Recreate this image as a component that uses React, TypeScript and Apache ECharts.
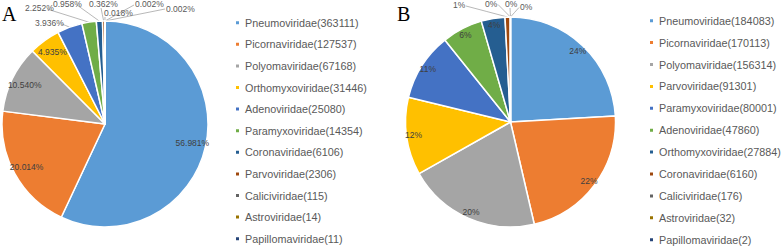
import React, { useEffect, useRef } from 'react';
import * as echarts from 'echarts';

const namesA = ['Pneumoviridae', 'Picornaviridae', 'Polyomaviridae', 'Orthomyxoviridae', 'Adenoviridae', 'Paramyxoviridae', 'Coronaviridae', 'Parvoviridae', 'Caliciviridae', 'Astroviridae', 'Papillomaviridae'];
const valuesA = [363111, 127537, 67168, 31446, 25080, 14354, 6106, 2306, 115, 14, 11];
const namesB = ['Pneumoviridae', 'Picornaviridae', 'Polyomaviridae', 'Parvoviridae', 'Paramyxoviridae', 'Adenoviridae', 'Orthomyxoviridae', 'Coronaviridae', 'Caliciviridae', 'Astroviridae', 'Papillomaviridae'];
const valuesB = [184083, 170113, 156314, 91301, 80001, 47860, 27884, 6160, 176, 32, 2];
const palette = ['#5B9BD5', '#ED7D31', '#A5A5A5', '#FFC000', '#4472C4', '#70AD47', '#255E91', '#9E480E', '#636363', '#997300', '#264478'];

// label placement (layout only): [left x, middle y, line end x, line end y]
const outsideA: Record<number, number[]> = {
  4: [35, 23, 62, 24],
  5: [25, 8, 47, 9],
  6: [53, 4, 77, 5],
  7: [89, 4, 101, 8],
  8: [104, 13, 105, 17],
  9: [135, 4, 134, 5],
  10: [166, 8.5, 165, 9],
};
const outsideB: Record<number, number[]> = {
  7: [453, 4.5, 466, 6],
  8: [485, 3.5, 498, 4.5],
  9: [505, 3.5, 510, 8],
  10: [520, 6.5, 519, 7.5],
};

const FONT = 'Liberation Sans';

function buildMain(names: string[], values: number[], insideCount: number) {
  return names.map((n, i) => ({
    name: n,
    value: values[i],
    itemStyle: { color: palette[i] },
    label: { show: i >= insideCount },
    labelLine: { show: i >= insideCount },
  }));
}
function buildOverlay(names: string[], values: number[], insideCount: number) {
  return names.map((n, i) => ({
    name: n,
    value: values[i],
    itemStyle: { color: 'rgba(0,0,0,0)' },
    label: { show: i < insideCount },
  }));
}

function layoutFn(spec: Record<number, number[]>) {
  return (p: any) => {
    const s = spec[p.dataIndex];
    if (!s) return {};
    const pts = p.labelLinePoints;
    const res: any = { x: s[0], y: s[1], align: 'left', verticalAlign: 'middle' };
    if (pts && pts[0]) {
      const a = pts[0];
      res.labelLinePoints = [a, [(a[0] + s[2]) / 2, (a[1] + s[3]) / 2], [s[2], s[3]]];
    }
    return res;
  };
}

export default function App() {
  const ref = useRef<HTMLDivElement>(null);
  useEffect(() => {
    if (!ref.current) return;
    const chart = echarts.init(ref.current, undefined, { renderer: 'svg' });
    const fmtA = (p: any) => `${Number(p.percent).toFixed(3)}%`;
    const fmtB = (p: any) => `${p.percent}%`;
    const commonMain = {
      type: 'pie',
      startAngle: 90,
      clockwise: true,
      avoidLabelOverlap: false,
      silent: true,
      itemStyle: { borderColor: '#ffffff', borderWidth: 1.5 },
      label: { position: 'outside', color: '#595959', fontSize: 8.5, fontFamily: FONT },
      labelLine: { lineStyle: { color: '#A6A6A6', width: 0.8 }, length: 5, length2: 5 },
    };
    const commonOverlay = {
      type: 'pie',
      startAngle: 90,
      clockwise: true,
      silent: true,
      avoidLabelOverlap: false,
      z: 5,
      itemStyle: { borderWidth: 0 },
      label: { position: 'inside', color: '#404040', fontSize: 8.5, fontFamily: FONT },
      labelLine: { show: false },
    };
    const legendCommon = {
      orient: 'vertical',
      icon: 'rect',
      itemWidth: 5,
      itemHeight: 5,
      padding: 0,
      selectedMode: false,
      textStyle: { color: '#595959', fontSize: 10.8, fontFamily: FONT, lineHeight: 12 },
    };
    chart.setOption({
      animation: false,
      legend: [
        {
          ...legendCommon,
          left: 234,
          top: 16.7,
          itemGap: 9.6,
          data: namesA.map((n, i) => ({ name: n, itemStyle: { color: palette[i] } })),
          formatter: (name: string) => `${name}(${valuesA[namesA.indexOf(name)]})`,
        },
        {
          ...legendCommon,
          left: 648,
          top: 14.7,
          itemGap: 9.9,
          data: namesB.map((n, i) => ({ name: n, itemStyle: { color: palette[i] } })),
          formatter: (name: string) => `${name}(${valuesB[namesB.indexOf(name)]})`,
        },
      ],
      graphic: [
        { type: 'text', left: 2, top: 4, style: { text: 'A', font: '20px "Liberation Serif"', fill: '#000' } },
        { type: 'text', left: 397, top: 4, style: { text: 'B', font: '20px "Liberation Serif"', fill: '#000' } },
      ],
      series: [
        {
          ...commonMain,
          name: 'A',
          center: [105, 124],
          radius: [0, 103],
          percentPrecision: 3,
          label: { ...commonMain.label, formatter: fmtA },
          labelLayout: layoutFn(outsideA),
          data: buildMain(namesA, valuesA, 4),
        },
        {
          ...commonOverlay,
          name: 'A-in',
          center: [105, 124],
          radius: [70, 103],
          percentPrecision: 3,
          label: { ...commonOverlay.label, formatter: fmtA },
          data: buildOverlay(namesA, valuesA, 4),
        },
        {
          ...commonMain,
          name: 'B',
          center: [510.5, 122],
          radius: [0, 105],
          percentPrecision: 0,
          label: { ...commonMain.label, formatter: fmtB },
          labelLayout: layoutFn(outsideB),
          data: buildMain(namesB, valuesB, 7),
        },
        {
          ...commonOverlay,
          name: 'B-in',
          center: [510.5, 122],
          radius: [85, 105],
          percentPrecision: 0,
          label: { ...commonOverlay.label, formatter: fmtB },
          data: buildOverlay(namesB, valuesB, 7),
        },
      ],
    });
    return () => chart.dispose();
  }, []);
  return <div ref={ref} style={{ position: 'absolute', left: 0, top: 0, width: 782, height: 247 }} />;
}
